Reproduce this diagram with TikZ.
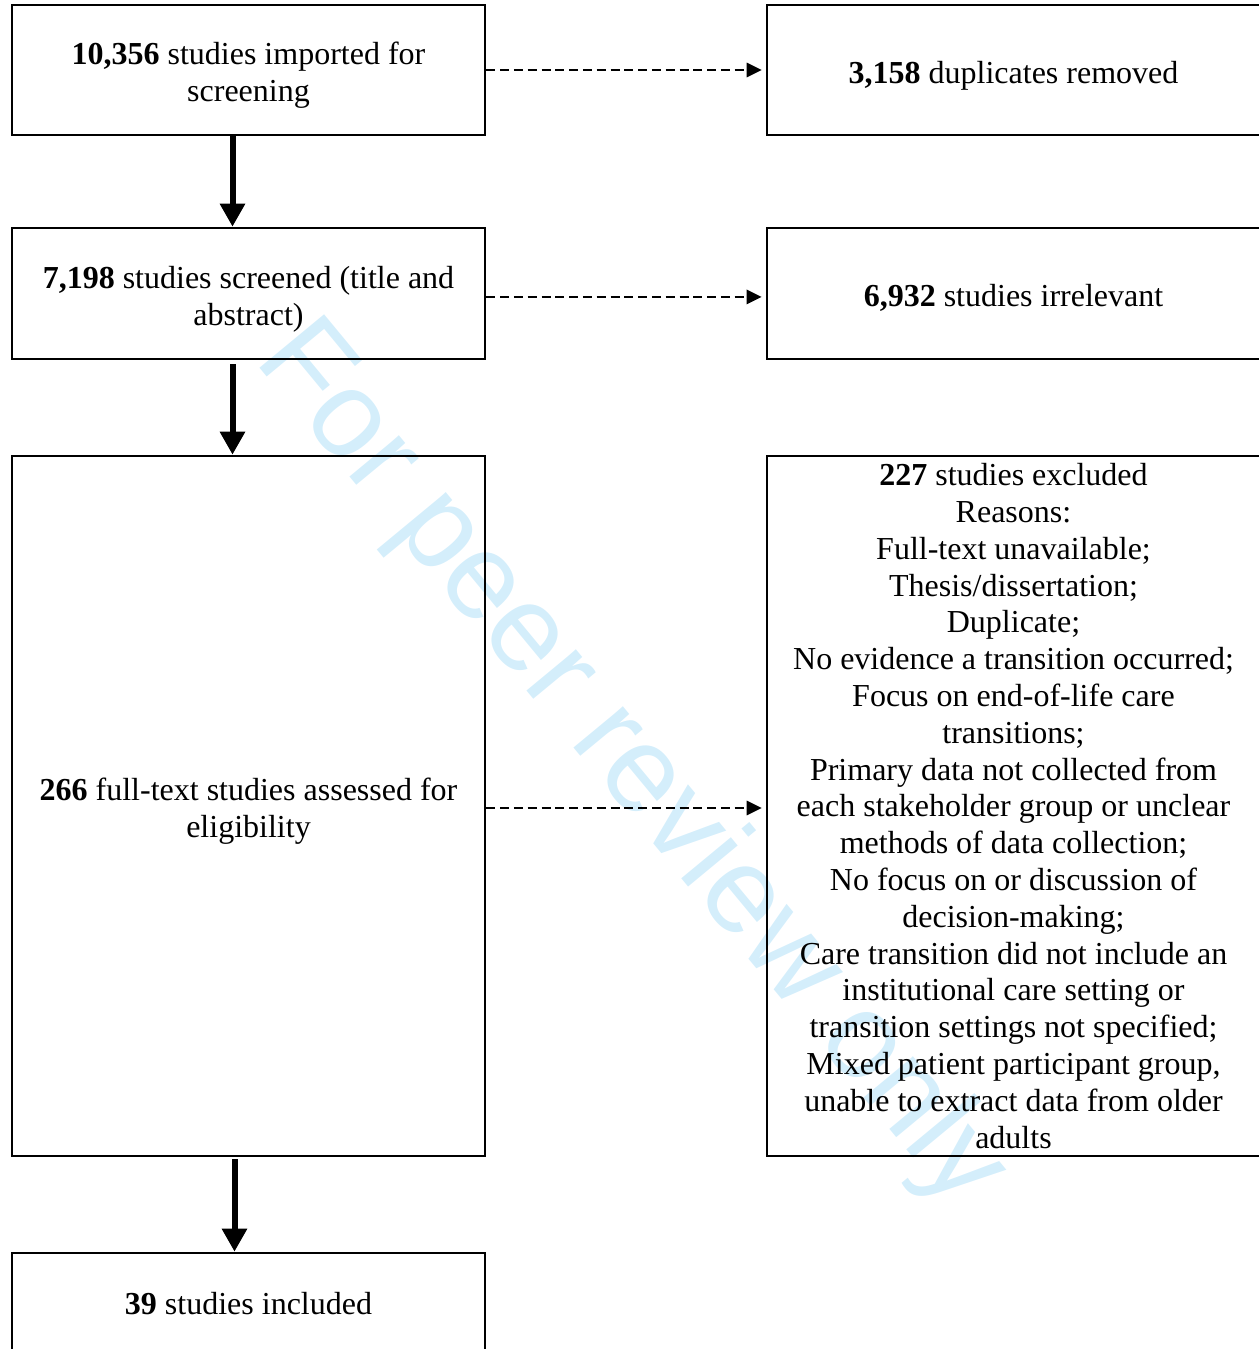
\documentclass[tikz,border=0pt]{standalone}
\usepackage{fontspec}
\setmainfont{Liberation Serif}
\newfontfamily\wmfont{Liberation Sans}
\usepackage{xcolor}
\usepackage{tikz}
\usetikzlibrary{arrows.meta,positioning}
\definecolor{WMark}{HTML}{D4EEFB}

\begin{document}
\begin{tikzpicture}[
  x=0.5pt,y=-0.5pt,
  every node/.style={font=\fontsize{16}{18.4}\selectfont},
  lbox/.style={draw,line width=1.3pt,minimum width=236.5pt,minimum height=65pt,
    align=center,inner sep=2pt},
  rbox/.style={draw,line width=1.3pt,minimum width=246.5pt,minimum height=65pt,
    align=center,inner sep=2pt},
  lower/.style={execute at begin node={\rule{0pt}{#1}}},
  lower/.default=35pt,
  down/.style={-{Triangle[width=12pt,length=11.5pt]},line width=3pt},
  side/.style={-{Triangle[width=7pt,length=7.5pt]},line width=1.4pt,
    dash pattern=on 4.5pt off 2.4pt,shorten >=2pt}
]
  \useasboundingbox (0,0) rectangle (1258,1349);
  \node[font=\wmfont\fontsize{61}{61}\selectfont,text=WMark,rotate=-50.4] (wm) at (630,766)
    {For peer review only};

  \node[lbox,lower] (imported) at (248.5,70) {\textbf{10,356} studies imported for\\screening};
  \node[rbox,lower=17pt] (duplicates) at (1013.5,70) {\textbf{3,158} duplicates removed};
  \node[lbox,lower,minimum height=65.5pt] (screened) at (248.5,293.5)
    {\textbf{7,198} studies screened (title and\\abstract)};
  \node[rbox,lower=15pt,minimum height=65.5pt] (irrelevant) at (1013.5,293.5)
    {\textbf{6,932} studies irrelevant};
  \node[lbox,lower,minimum height=350pt] (assessed) at (248.5,806)
    {\textbf{266} full-text studies assessed for\\eligibility};
  \node[rbox,minimum height=350pt,inner ysep=0pt] (excluded) at (1013.5,806)
    {\textbf{227} studies excluded\\Reasons:\\Full-text unavailable;\\Thesis/dissertation;\\
     Duplicate;\\No evidence a transition occurred;\\Focus on end-of-life care\\transitions;\\
     Primary data not collected from\\each stakeholder group or unclear\\methods of data collection;\\
     No focus on or discussion of\\decision-making;\\Care transition did not include an\\
     institutional care setting or\\transition settings not specified;\\
     Mixed patient participant group,\\unable to extract data from older\\adults};
  \node[lbox,minimum height=51pt] (included) at (248.5,1304) {\textbf{39} studies included};

  \draw[down] ([xshift=-8pt]imported.south) -- ([xshift=-8pt]screened.north);
  \draw[down,shorten <=2pt] ([xshift=-8pt]screened.south) -- ([xshift=-8pt]assessed.north);
  \draw[down,shorten <=1pt] ([xshift=-7pt]assessed.south) -- ([xshift=-7pt]included.north);

  \draw[side] (imported.east) -- (duplicates.west);
  \draw[side] ([yshift=-1.7pt]screened.east) -- ([yshift=-1.7pt]irrelevant.west);
  \draw[side] ([yshift=-1pt]assessed.east) -- ([yshift=-1pt]excluded.west);
\end{tikzpicture}
\end{document}
